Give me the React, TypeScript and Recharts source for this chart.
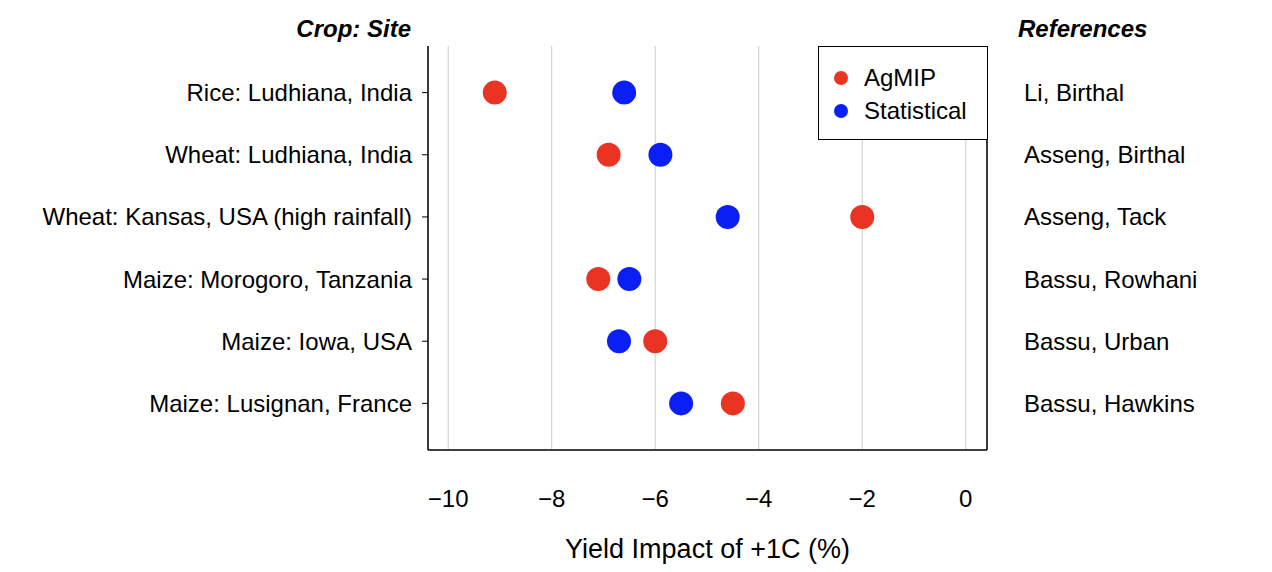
import React from "react";
import {
  ScatterChart,
  Scatter,
  XAxis,
  YAxis,
  CartesianGrid,
} from "recharts";

const sites = [
  "Rice: Ludhiana, India",
  "Wheat: Ludhiana, India",
  "Wheat: Kansas, USA (high rainfall)",
  "Maize: Morogoro, Tanzania",
  "Maize: Iowa, USA",
  "Maize: Lusignan, France",
];
const references = [
  "Li, Birthal",
  "Asseng, Birthal",
  "Asseng, Tack",
  "Bassu, Rowhani",
  "Bassu, Urban",
  "Bassu, Hawkins",
];
const agmip = [-9.1, -6.9, -2.0, -7.1, -6.0, -4.5];
const statistical = [-6.6, -5.9, -4.6, -6.5, -6.7, -5.5];
const xTicks = [-10, -8, -6, -4, -2, 0];

const agmipData = agmip.map((x, i) => ({ x, y: i + 1 }));
const statData = statistical.map((x, i) => ({ x, y: i + 1 }));

const RED = "#ea3323";
const BLUE = "#0a1ff5";
const FONT = "'Liberation Sans', Arial, sans-serif";
const FS = 24;

const LegendBox = () => (
  <div
    style={{
      position: "absolute",
      left: 818,
      top: 46,
      border: "1.5px solid #000",
      background: "#fff",
      width: 170,
      height: 94,
      boxSizing: "border-box",
      padding: "14px 0 0 15px",
      fontFamily: FONT,
      fontSize: FS,
    }}
  >
    {[
      ["AgMIP", RED],
      ["Statistical", BLUE],
    ].map(([n, c]) => (
      <div key={n} style={{ display: "flex", alignItems: "center", height: 33 }}>
        <span style={{ width: 14, height: 14, borderRadius: 7, background: c, marginRight: 16 }} />
        {n}
      </div>
    ))}
  </div>
);

export default function App() {
  return (
    <div style={{ position: "absolute", left: 0, top: 0, width: 1272, height: 572, fontFamily: FONT, background: "#fff" }}>
      <div style={{ position: "absolute", right: 1272 - 411, top: 15, fontSize: FS, fontWeight: "bold", fontStyle: "italic" }}>
        Crop: Site
      </div>
      <div style={{ position: "absolute", left: 1018, top: 15, fontSize: FS, fontWeight: "bold", fontStyle: "italic" }}>
        References
      </div>
      <ScatterChart width={1272} height={572} margin={{ top: 46, left: 8, right: 5, bottom: 0 }}>
        <CartesianGrid horizontal={false} stroke="#cccccc" />
        <XAxis
          type="number"
          dataKey="x"
          domain={[-10.39, 0.41]}
          ticks={xTicks}
          tickFormatter={(v) => String(v).replace("-", "\u2212")}
          tick={{ fontSize: FS, fill: "#000", fontFamily: FONT }}
          tickLine={false}
          tickMargin={34}
          axisLine={{ stroke: "#000", strokeWidth: 1.5 }}
          height={122}
          label={{ value: "Yield Impact of +1C (%)", position: "insideBottom", offset: 14, fontSize: 27, fill: "#000" }}
        />
        <XAxis xAxisId="top" orientation="top" type="number" domain={[-10.39, 0.41]} height={0} tick={false} tickLine={false} axisLine={{ stroke: "#000", strokeWidth: 1.5 }} />
        <YAxis
          type="number"
          dataKey="y"
          domain={[0.25, 6.75]}
          reversed
          ticks={[1, 2, 3, 4, 5, 6]}
          tickFormatter={(v) => sites[v - 1]}
          tick={{ fontSize: FS, fill: "#000", fontFamily: FONT }}
          tickLine={{ stroke: "#000" }}
          tickSize={6}
          tickMargin={10}
          axisLine={{ stroke: "#000", strokeWidth: 1.5 }}
          width={420}
        />
        <YAxis
          yAxisId="right"
          orientation="right"
          type="number"
          dataKey="y"
          domain={[0.25, 6.75]}
          reversed
          ticks={[1, 2, 3, 4, 5, 6]}
          tickFormatter={(v) => references[v - 1]}
          tick={{ fontSize: FS, fill: "#000", fontFamily: FONT, textAnchor: "start" }}
          tickLine={false}
          tickMargin={31}
          axisLine={{ stroke: "#000", strokeWidth: 1.5 }}
          width={280}
        />
        <Scatter name="AgMIP" data={agmipData} fill={RED} isAnimationActive={false} shape={(p: any) => <circle cx={p.cx} cy={p.cy} r={12} fill={RED} />} />
        <Scatter name="Statistical" data={statData} fill={BLUE} isAnimationActive={false} shape={(p: any) => <circle cx={p.cx} cy={p.cy} r={12} fill={BLUE} />} />
        <Scatter yAxisId="right" data={statData} isAnimationActive={false} shape={() => <g />} legendType="none" />
      </ScatterChart>
      <LegendBox />
    </div>
  );
}
